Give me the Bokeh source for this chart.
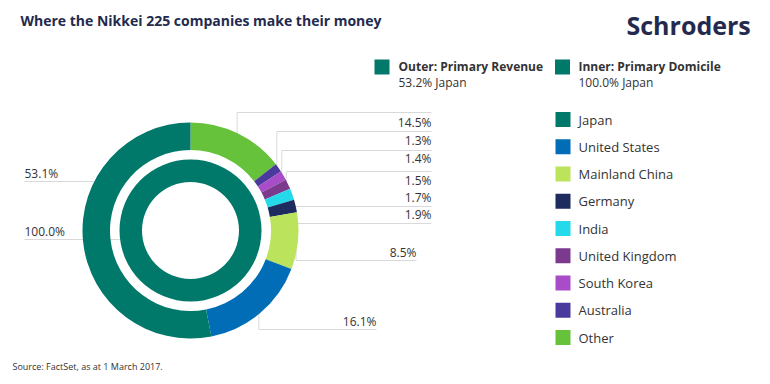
import math
from bokeh.plotting import figure
from bokeh.models import Range1d, ColumnDataSource
from bokeh.core.properties import value
from bokeh.embed import file_html
from bokeh.resources import INLINE

# ---------------- data ----------------
title = "Where the Nikkei 225 companies make their money"
brand = "Schroders"
source_note = "Source: FactSet, as at 1 March 2017."

countries = ["Japan", "United States", "Mainland China", "Germany", "India",
             "United Kingdom", "South Korea", "Australia", "Other"]
country_colors = ["#00786A", "#006DB6", "#BBE35C", "#1D2B5E", "#23D9EA",
                  "#7B3A8E", "#A84CC7", "#4A3A9E", "#66C23A"]

# Outer ring: primary revenue (%), clockwise from 12 o'clock
outer_order = ["Other", "Australia", "South Korea", "United Kingdom", "India",
               "Germany", "Mainland China", "United States", "Japan"]
outer_values = [14.5, 1.3, 1.4, 1.5, 1.7, 1.9, 8.5, 16.1, 53.1]

# Inner ring: primary domicile (%)
inner_order = ["Japan"]
inner_values = [100.0]

outer_legend_title = "Outer: Primary Revenue"
outer_legend_note = "53.2% Japan"
inner_legend_title = "Inner: Primary Domicile"
inner_legend_note = "100.0% Japan"

# ---------------- layout (screen px) ----------------
W, H = 762, 376
CX, CY = 190, 230
R_OUT_O, R_OUT_I = 108, 80.5
R_IN_O, R_IN_I = 71, 48.5
FONT = value("Open Sans")
LINE_COL = "#d9d9d9"
TXT_COL = "#333333"

# label layout for outer slices (text centre y, leader y, text edge x, side)
outer_label_ty = [122, 140, 158, 180, 197, 214, 252, 321, 173]
outer_label_ly = [112, 131, 150, 171, 206, 223, 260, 329, 181]
outer_label_ex = [431, 431, 431, 431, 431, 431, 416, 376, 24]
outer_label_side = ["r", "r", "r", "r", "r", "r", "r", "r", "l"]
inner_label_ty, inner_label_ly, inner_label_ex = [231], [239], [24]


def Y(y):
    return H - y


p = figure(width=W, height=H, output_backend="svg", toolbar_location=None,
           x_range=Range1d(0, W), y_range=Range1d(0, H),
           x_axis_type=None, y_axis_type=None, min_border=0)
p.outline_line_color = None
p.grid.visible = False
p.background_fill_color = "white"
p.border_fill_color = "white"

color_of = dict(zip(countries, country_colors))
total_o = sum(outer_values)

# ---- leader lines (behind rings) ----
hx0, hx1, hy, vx, vy0, vy1 = [], [], [], [], [], []
lab_x, lab_y, lab_t, lab_align = [], [], [], []
cum = 0.0
for i, v in enumerate(outer_values):
    mid = (cum + v / 2) / total_o
    cum += v
    th = 2 * math.pi * mid
    ra = 106 if outer_label_side[i] == "r" else 94
    ax = CX + ra * math.sin(th)
    ay = CY - ra * math.cos(th)
    ly = outer_label_ly[i]
    ex = outer_label_ex[i]
    hx0.append(ax); hx1.append(ex); hy.append(Y(ly))
    vx.append(ax); vy0.append(Y(ly)); vy1.append(Y(ay))
    lab_x.append(ex); lab_y.append(Y(outer_label_ty[i]))
    lab_t.append(f"{v:.1f}%")
    lab_align.append("right" if outer_label_side[i] == "r" else "left")

for i, v in enumerate(inner_values):
    ax = CX - 60
    ay = CY
    ly = inner_label_ly[i]
    ex = inner_label_ex[i]
    hx0.append(ax); hx1.append(ex); hy.append(Y(ly))
    vx.append(ax); vy0.append(Y(ly)); vy1.append(Y(ay))
    lab_x.append(ex); lab_y.append(Y(inner_label_ty[i]))
    lab_t.append(f"{v:.1f}%")
    lab_align.append("left")

p.segment(x0=hx0, y0=hy, x1=hx1, y1=hy, line_color=LINE_COL, line_width=1)
p.segment(x0=vx, y0=vy0, x1=vx, y1=vy1, line_color=LINE_COL, line_width=1)

# ---- outer ring ----
starts, ends, cols = [], [], []
cum = 0.0
for name, v in zip(outer_order, outer_values):
    f0 = cum / total_o
    cum += v
    f1 = cum / total_o
    starts.append(math.pi / 2 - 2 * math.pi * f0)
    ends.append(math.pi / 2 - 2 * math.pi * f1)
    cols.append(color_of[name])
src_o = ColumnDataSource(dict(x=[CX] * len(starts), y=[Y(CY)] * len(starts),
                              s=starts, e=ends, c=cols))
p.annular_wedge(x="x", y="y", inner_radius=R_OUT_I, outer_radius=R_OUT_O,
                start_angle="s", end_angle="e", direction="clock",
                fill_color="c", line_color=None, source=src_o)

# ---- inner ring ----
total_i = sum(inner_values)
starts, ends, cols = [], [], []
cum = 0.0
for name, v in zip(inner_order, inner_values):
    f0 = cum / total_i
    cum += v
    f1 = cum / total_i
    starts.append(math.pi / 2 - 2 * math.pi * f0)
    ends.append(math.pi / 2 - 2 * math.pi * f1)
    cols.append(color_of[name])
if len(inner_values) == 1:
    p.annulus(x=[CX], y=[Y(CY)], inner_radius=R_IN_I, outer_radius=R_IN_O,
              fill_color=cols[0], line_color=None)
else:
    p.annular_wedge(x=[CX] * len(starts), y=[Y(CY)] * len(starts),
                    inner_radius=R_IN_I, outer_radius=R_IN_O,
                    start_angle=starts, end_angle=ends, direction="clock",
                    fill_color=cols, line_color=None)

# ---- value labels ----
src_l = ColumnDataSource(dict(x=lab_x, y=lab_y, t=lab_t, a=lab_align))
p.text(x="x", y="y", text="t", text_align="a", text_baseline="middle",
       text_font=FONT, text_font_size="12px", text_color=TXT_COL, source=src_l)

# ---- title, brand, source ----
p.text(x=[20], y=[Y(20)], text=[title], text_font=FONT, text_font_size="14px",
       text_font_style="bold", text_color="#232A4E", text_baseline="middle")
p.text(x=[626], y=[Y(24)], text=[brand], text_font=FONT, text_font_size="25px",
       text_font_style="bold", text_color="#232A4E", text_baseline="middle")
p.text(x=[12], y=[Y(366)], text=[source_note], text_font=FONT,
       text_font_size="9px", text_color=TXT_COL, text_baseline="middle")

# ---- top legend ----
p.rect(x=[381.5, 562], y=[Y(66.5)] * 2, width=15, height=15,
       fill_color=[color_of["Japan"]] * 2, line_color=None)
p.text(x=[398, 578], y=[Y(66)] * 2, text=[outer_legend_title, inner_legend_title],
       text_font=FONT, text_font_size="12px", text_font_style="bold",
       text_color=TXT_COL, text_baseline="middle")
p.text(x=[398, 578], y=[Y(82)] * 2, text=[outer_legend_note, inner_legend_note],
       text_font=FONT, text_font_size="12px", text_color=TXT_COL,
       text_baseline="middle")

# ---- right legend ----
ly_rows = [Y(119 + i * 27.25) for i in range(len(countries))]
p.rect(x=[562.5] * len(countries), y=ly_rows, width=15, height=15,
       fill_color=country_colors, line_color=None)
p.text(x=[578] * len(countries), y=ly_rows, text=countries, text_font=FONT,
       text_font_size="13px", text_color=TXT_COL, text_baseline="middle")

open("out.html", "w").write(file_html(p, INLINE))
